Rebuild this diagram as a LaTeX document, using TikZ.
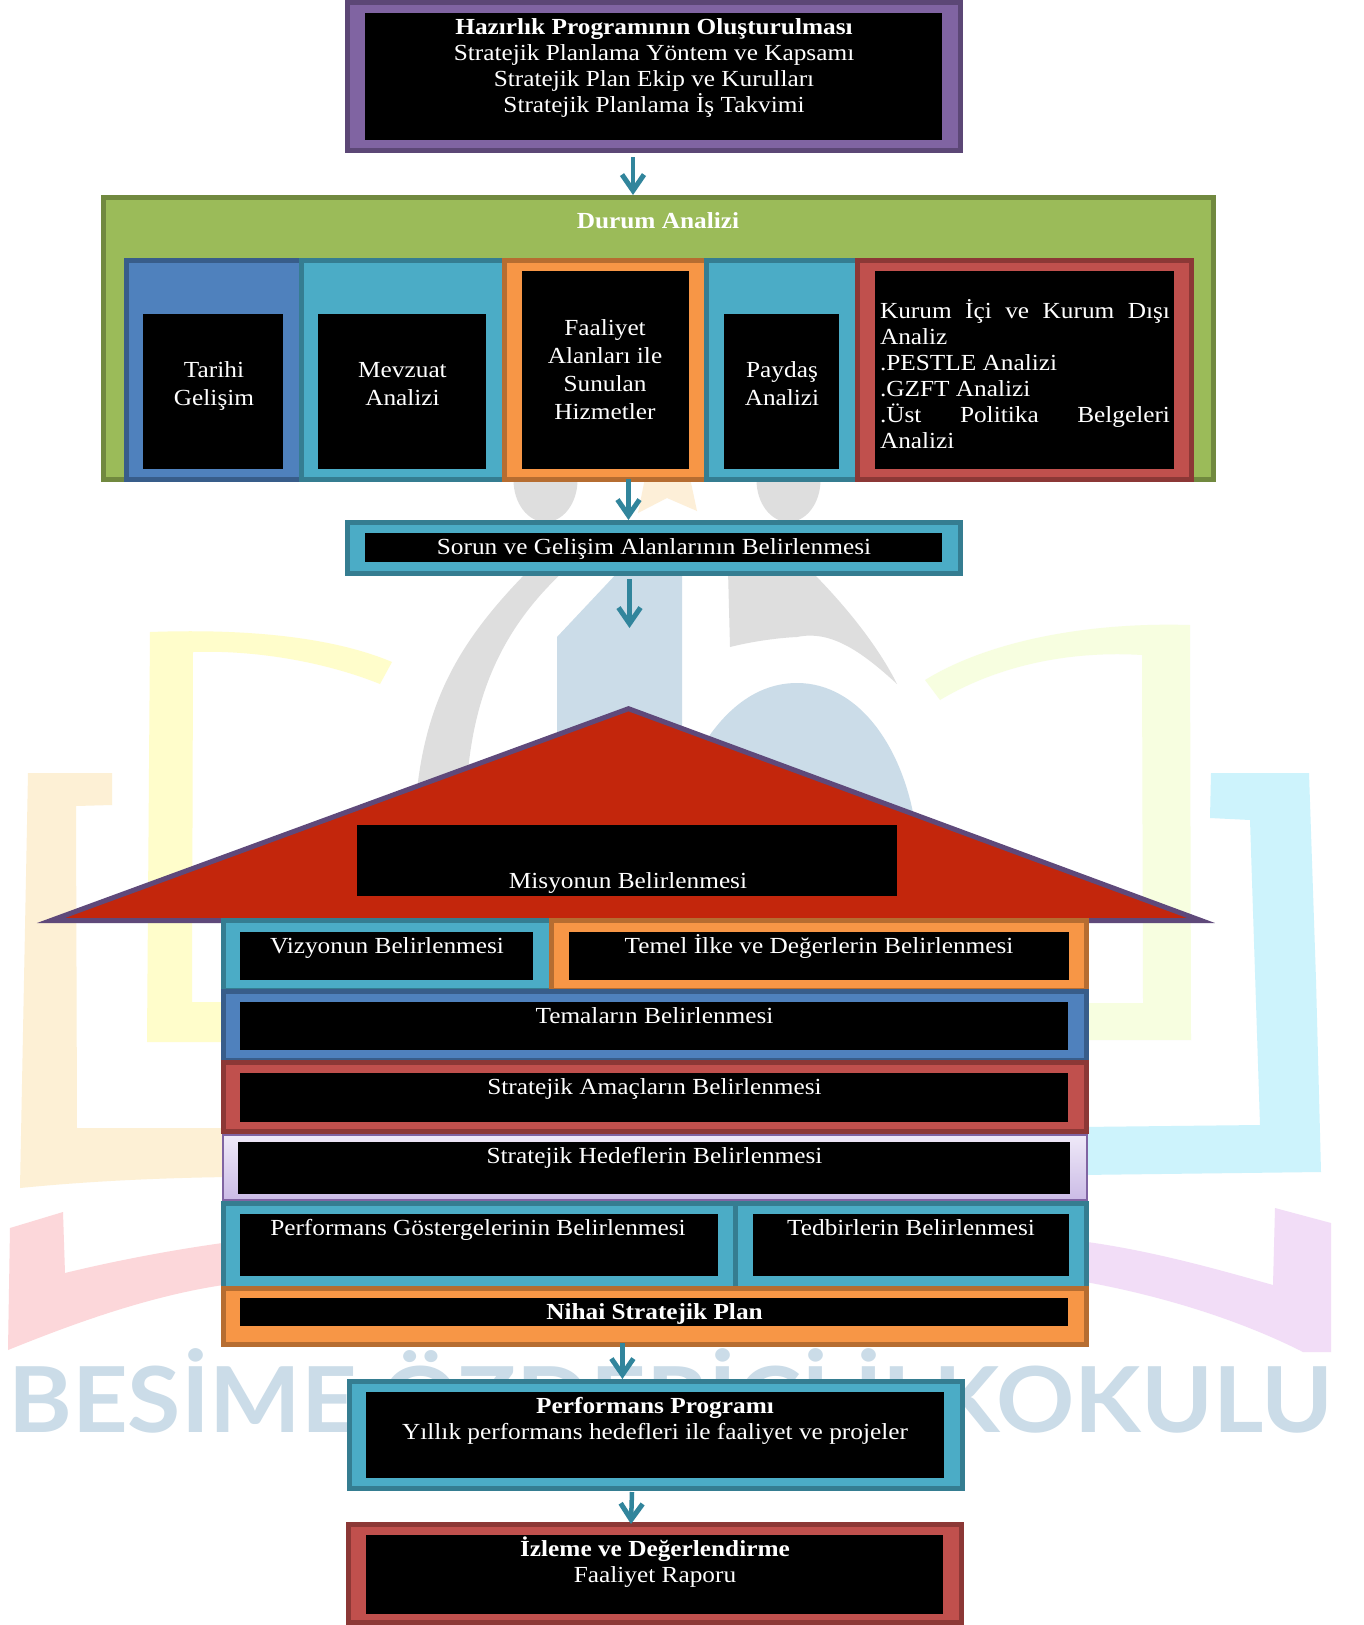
\documentclass[tikz,border=0pt]{standalone}
\usepackage{fontspec}
\setmainfont[FakeStretch=1.1]{Liberation Serif}
\newfontfamily\wmfont{Lato}
\usetikzlibrary{arrows.meta}
\definecolor{tealF}{HTML}{4BACC6}\definecolor{tealD}{HTML}{357D91}
\definecolor{blueF}{HTML}{4F81BD}\definecolor{blueD}{HTML}{385D8A}
\definecolor{redF}{HTML}{C0504D}\definecolor{redD}{HTML}{8C3836}
\definecolor{orgF}{HTML}{F79646}\definecolor{orgD}{HTML}{B66D31}
\definecolor{purF}{HTML}{8064A2}\definecolor{purD}{HTML}{5C4776}
\definecolor{grnF}{HTML}{9BBB59}\definecolor{grnD}{HTML}{71893F}
\definecolor{roofF}{HTML}{C3260C}\definecolor{roofD}{HTML}{5F497A}
\definecolor{arrowC}{HTML}{31859C}
\definecolor{lavT}{HTML}{EFE9F8}\definecolor{lavB}{HTML}{CBBBE6}
\definecolor{wmOrange}{HTML}{FDF0D5}\definecolor{wmYellow}{HTML}{FFFDCB}
\definecolor{wmRed}{HTML}{FCD7DA}\definecolor{wmPurple}{HTML}{F2DDF7}
\definecolor{wmCyan}{HTML}{CDF3FC}\definecolor{wmLime}{HTML}{F7FEE0}
\definecolor{wmGrey}{HTML}{DEDEDE}\definecolor{wmBlue}{HTML}{CBDCE8}
\definecolor{wmStar}{HTML}{FDEFD8}
\newcommand{\Frm}[7][5]{% line width, name, x1,y1,x2,y2, style
  \pgfmathsetmacro{\cxv}{(#3+#5)/2}\pgfmathsetmacro{\cyv}{(#4+#6)/2}%
  \pgfmathsetmacro{\wv}{#5-#3-#1}\pgfmathsetmacro{\hv}{#6-#4-#1}%
  \node[#7,line width=#1pt,minimum width=\wv pt,minimum height=\hv pt,inner sep=0pt] (#2) at (\cxv,\cyv) {};}
\newcommand{\Blk}[5]{%
  \pgfmathsetmacro{\cxv}{(#2+#4)/2}\pgfmathsetmacro{\cyv}{(#3+#5)/2}%
  \pgfmathsetmacro{\wv}{#4-#2}\pgfmathsetmacro{\hv}{#5-#3}%
  \node[fill=black,minimum width=\wv pt,minimum height=\hv pt,inner sep=0pt,outer sep=0pt] (#1) at (\cxv,\cyv) {};}
\newcommand{\T}{\rule{0pt}{22pt}}
\tikzset{
  x=1pt,y=-1pt,
  lbl/.style={text=white,inner sep=0pt,outer sep=0pt,anchor=north,align=center,font=\fontsize{23pt}{26pt}\selectfont},
  lblw/.style={lbl,font=\fontsize{23pt}{28pt}\selectfont},
  teal/.style={draw=tealD,fill=tealF},
  bluebox/.style={draw=blueD,fill=blueF},
  redbox/.style={draw=redD,fill=redF},
  orgbox/.style={draw=orgD,fill=orgF},
  purbox/.style={draw=purD,fill=purF},
  grnbox/.style={draw=grnD,fill=grnF},
  lavbox/.style={draw=purF,top color=lavT,bottom color=lavB},
  flow/.style={draw=arrowC,line width=4.5pt,-{Straight Barb[length=16pt,width=22pt,line width=5pt]}},
}
\begin{document}
\begin{tikzpicture}
\useasboundingbox (0,0) rectangle (1363,1625);
\fill[white] (0,0) rectangle (1363,1625);
% ---- watermark ----
\fill[wmOrange] (28,773)--(112,773)--(112,805)--(76,806)--(77,1128)--(230,1128)--(230,1177) .. controls (150,1178) and (80,1182) .. (20,1188)--cycle;
\fill[wmYellow] (150,632) .. controls (260,628) and (340,640) .. (392,662)--(380,684) .. controls (320,660) and (250,650) .. (193,652)--(192,1002)--(230,1002)--(230,1042)--(147,1042)--cycle;
\fill[wmRed] (10,1228)--(63,1212)--(65,1273) .. controls (110,1262) and (170,1250) .. (230,1242)--(230,1284) .. controls (150,1295) and (70,1325) .. (8,1350)--cycle;
\fill[wmPurple] (1080,1241) .. controls (1150,1250) and (1220,1270) .. (1273,1285)--(1275,1208)--(1331,1223)--(1331,1352)--(1303,1352) .. controls (1240,1320) and (1160,1295) .. (1080,1281)--cycle;
\fill[wmCyan] (1211,773)--(1309,773)--(1316,980)--(1321,1172)--(1080,1175)--(1080,1127)--(1260,1125)--(1250,820)--(1210,818)--cycle;
\fill[wmLime] (1190,625)--(1191,1040)--(1080,1040)--(1080,1003)--(1143,1003)--(1142,655) .. controls (1060,650) and (990,670) .. (940,700)--(925,680) .. controls (990,640) and (1090,622) .. (1190,625)--cycle;
\fill[wmGrey] (545.5,480) ellipse (32 and 42);
\fill[wmGrey] (788.5,480) ellipse (32 and 42);
\fill[wmStar] (645,478)--(690,478)--(697,511)--(667,498)--(638,513)--cycle;
\fill[wmGrey] (529,570) .. controls (460,640) and (425,700) .. (416,800)--(466,800) .. controls (470,700) and (500,630) .. (565,570)--cycle;
\fill[wmBlue] (557,637)--(620,570)--(682,570)--(682,780)--(557,800)--cycle;
\fill[wmGrey] (728,570)--(810,570) .. controls (850,610) and (880,650) .. (897,684) .. controls (860,650) and (830,630) .. (797,637) .. controls (775,638) and (750,642) .. (730,647)--cycle;
\fill[wmBlue] (700,750) .. controls (730,700) and (765,683) .. (797,683) .. controls (860,683) and (905,750) .. (916,830)--(700,830)--cycle;
\node[anchor=base west,inner sep=0pt,text=wmBlue,font=\wmfont\bfseries\fontsize{91pt}{91pt}\selectfont] (wm) at (8,1432) {\resizebox{1325pt}{\height}{BESİME ÖZDERİCİ İLKOKULU}};
% ---- top ----
\Frm{top}{345}{0}{963}{153}{purbox}
\Blk{topb}{365}{13}{942}{140}
\node[lbl] (toptx) at (654,12) {\T\textbf{Hazırlık Programının Oluşturulması}\\Stratejik Planlama Yöntem ve Kapsamı\\Stratejik Plan Ekip ve Kurulları\\Stratejik Planlama İş Takvimi};
% ---- durum ----
\Frm{durum}{101}{195}{1216}{482}{grnbox}
\node[lbl] (durumtx) at (658,206) {\T\textbf{Durum Analizi}};
\Frm{tarihi}{123.5}{258}{304}{482}{bluebox}
\Blk{tarihib}{143}{314}{283}{469}
\node[lblw] (tarihitx) at (214,355) {\T Tarihi\\Gelişim};
\Frm{mevzuat}{299}{258}{506.5}{482}{teal}
\Blk{mevzuatb}{318}{314}{486}{469}
\node[lblw] (mevzuattx) at (402.5,355) {\T Mevzuat\\Analizi};
\Frm{faal}{501.5}{258}{709}{482}{orgbox}
\Blk{faalb}{521.5}{271}{688.5}{469}
\node[lblw] (faaltx) at (605,313) {\T Faaliyet\\Alanları ile\\Sunulan\\Hizmetler};
\Frm{payd}{704}{258}{860}{482}{teal}
\Blk{paydb}{724}{314}{839}{469}
\node[lblw] (paydtx) at (782,355) {\T Paydaş\\Analizi};
\Frm{kurum}{855}{258}{1194}{482}{redbox}
\Blk{kurumb}{875}{271}{1173.5}{469}
\node[lbl,align=left,anchor=north west] (kurumtx) at (880,296) {\T\makebox[290pt][s]{Kurum İçi ve Kurum Dışı}\\Analiz\\.PESTLE Analizi\\.GZFT Analizi\\\makebox[290pt][s]{.Üst Politika Belgeleri}\\Analizi};
% ---- sorun ----
\Frm{sorun}{345}{520}{963}{576}{teal}
\Blk{sorunb}{365}{533}{942}{561.5}
\node[lbl] (soruntx) at (654,532) {\T Sorun ve Gelişim Alanlarının Belirlenmesi};
% ---- roof ----
\filldraw[fill=roofF,draw=roofD,line width=5pt,miter limit=10] (51,920.5) -- (628.5,708.7) -- (1201,920.5) -- cycle;
\Blk{misb}{357}{825}{897}{896}
\node[lbl] (mistx) at (628,866) {\T Misyonun Belirlenmesi};
% ---- house body ----
\Frm{vizyon}{221}{918}{553.5}{993}{teal}
\Blk{vizyonb}{240}{932}{533}{980}
\node[lbl] (vizyontx) at (387,931) {\T Vizyonun Belirlenmesi};
\Frm{temel}{548.5}{918}{1089}{993}{orgbox}
\Blk{temelb}{568.5}{932}{1069}{980}
\node[lbl] (temeltx) at (819,931) {\T Temel İlke ve Değerlerin Belirlenmesi};
\Frm{tema}{221}{989}{1089}{1063}{bluebox}
\Blk{temab}{240}{1002}{1068}{1050}
\node[lbl] (tematx) at (654.5,1001) {\T Temaların Belirlenmesi};
\Frm{amac}{221}{1060}{1089}{1134}{redbox}
\Blk{amacb}{240}{1073}{1068}{1122}
\node[lbl] (amactx) at (654.5,1072) {\T Stratejik Amaçların Belirlenmesi};
\Frm[2]{hedef}{222}{1134}{1088}{1201}{lavbox}
\Blk{hedefb}{238}{1142}{1070}{1194}
\node[lbl] (hedeftx) at (654.5,1141) {\T Stratejik Hedeflerin Belirlenmesi};
\Frm{perfg}{221}{1201}{738}{1291}{teal}
\Blk{perfgb}{240}{1214}{718}{1276}
\node[lbl] (perfgtx) at (478,1213) {\T Performans Göstergelerinin Belirlenmesi};
\Frm{tedbir}{733}{1201}{1089}{1291}{teal}
\Blk{tedbirb}{753}{1214}{1069}{1276}
\node[lbl] (tedbirtx) at (911,1213) {\T Tedbirlerin Belirlenmesi};
\Frm{nihai}{221}{1286}{1089}{1347}{orgbox}
\Blk{nihaib}{240}{1298}{1068}{1326}
\node[lbl] (nihaitx) at (654.5,1297.5) {\T\textbf{Nihai Stratejik Plan}};
% ---- bottom ----
\Frm{perf}{347}{1379}{965}{1491}{teal}
\Blk{perfb}{366}{1392}{944}{1478}
\node[lbl] (perftx) at (655,1391) {\T\textbf{Performans Programı}\\Yıllık performans hedefleri ile faaliyet ve projeler};
\Frm{izle}{346}{1522}{964}{1625}{redbox}
\Blk{izleb}{366}{1535}{943}{1614}
\node[lbl] (izletx) at (655,1534) {\T\textbf{İzleme ve Değerlendirme}\\Faaliyet Raporu};
% ---- arrows ----
\coordinate (a3e) at (629.5,628);
\draw[flow] ([xshift=-21pt,yshift=-4pt]top.south) -- ([xshift=-25.5pt]durum.north);
\draw[flow] ([xshift=-30pt,yshift=3pt]durum.south) -- ([xshift=-25.5pt]sorun.north);
\draw[flow] ([xshift=-24.5pt,yshift=-3pt]sorun.south) -- (a3e);
\draw[flow] ([xshift=-32.6pt,yshift=4pt]nihai.south) -- ([xshift=-33.6pt]perf.north);
\draw[flow] ([xshift=-24pt,yshift=-1pt]perf.south) -- ([xshift=-24pt,yshift=-2pt]izle.north);
\end{tikzpicture}
\end{document}
